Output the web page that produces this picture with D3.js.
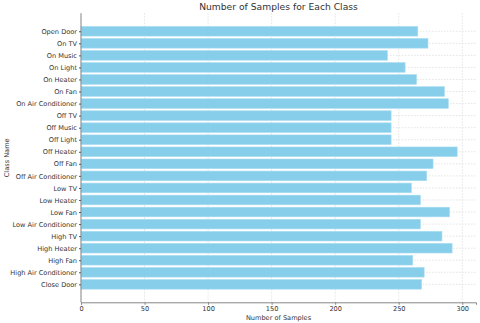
<!DOCTYPE html>
<html>
<head>
<meta charset="utf-8">
<script src="https://cdn.jsdelivr.net/npm/d3@7"></script>
<style>
  body { margin: 0; background: #fff; }
  svg text { font-family: "DejaVu Sans", sans-serif; fill: #333; }
</style>
</head>
<body>
<svg id="chart" width="480" height="323"></svg>
<script>
const classes = ["Open Door", "On TV", "On Music", "On Light", "On Heater", "On Fan", "On Air Conditioner",
  "Off TV", "Off Music", "Off Light", "Off Heater", "Off Fan", "Off Air Conditioner",
  "Low TV", "Low Heater", "Low Fan", "Low Air Conditioner",
  "High TV", "High Heater", "High Fan", "High Air Conditioner", "Close Door"]
const samples = [265, 273, 241, 255, 264, 286, 289,
  244, 244, 244, 296, 277, 272,
  260, 267, 290, 267,
  284, 292, 261, 270, 268]
const xTicks = [0, 50, 100, 150, 200, 250, 300]

const svg = d3.select("#chart")
const mLeft = 81, mRight = 476, mTop = 13.3, mBottom = 302.3

const x = d3.scaleLinear()
  .domain([0, d3.max(samples) * 1.05])
  .range([mLeft, mRight])
// matplotlib style: category centers with 0.05 margin
const n = classes.length
const y = d3.scaleLinear()
  .domain([-0.4 - 0.05 * (n - 0.2), n - 1 + 0.4 + 0.05 * (n - 0.2)])
  .range([mTop, mBottom])
const barH = y(0.4) - y(-0.4)

// grid
svg.append("g").selectAll("line")
  .data(xTicks).join("line")
  .attr("x1", d => x(d)).attr("x2", d => x(d))
  .attr("y1", mTop).attr("y2", mBottom)
  .attr("stroke", "#ddd").attr("stroke-width", 0.8).attr("stroke-dasharray", "1.5,1.5")
svg.append("g").selectAll("line")
  .data(classes).join("line")
  .attr("x1", mLeft).attr("x2", mRight)
  .attr("y1", (d, i) => y(i)).attr("y2", (d, i) => y(i))
  .attr("stroke", "#ddd").attr("stroke-width", 0.8).attr("stroke-dasharray", "1.5,1.5")

// bars
svg.append("g").selectAll("rect")
  .data(samples).join("rect")
  .attr("x", x(0))
  .attr("y", (d, i) => y(i) - barH / 2)
  .attr("width", d => x(d) - x(0))
  .attr("height", barH)
  .attr("fill", "#87ceeb")
  .attr("stroke", "#a8dcf0")
  .attr("stroke-width", 0.6)

// x axis
const xAxis = svg.append("g")
  .attr("transform", `translate(0,${mBottom})`)
  .call(d3.axisBottom(x).tickValues(xTicks).tickSize(2.5).tickPadding(1.5))
xAxis.select(".domain").attr("stroke", "#888")
xAxis.selectAll(".tick line").attr("stroke", "#888")
xAxis.selectAll("text").attr("font-size", 6.6).attr("fill", "#333")

// y axis
const yAxis = svg.append("g")
  .attr("transform", `translate(${mLeft},0)`)
  .call(d3.axisLeft(d3.scalePoint().domain(classes).range([y(0), y(n - 1)]))
    .tickSize(2).tickPadding(2))
yAxis.select(".domain").attr("d", `M0,${mTop}V${mBottom}`).attr("stroke", "#888")
yAxis.selectAll(".tick line").attr("stroke", "#555")
yAxis.selectAll("text").attr("font-size", 6.6).attr("fill", "#333")

// labels
svg.append("text")
  .attr("x", (mLeft + mRight) / 2).attr("y", 10)
  .attr("text-anchor", "middle").attr("font-size", 9.2)
  .text("Number of Samples for Each Class")
svg.append("text")
  .attr("x", (mLeft + mRight) / 2).attr("y", 320)
  .attr("text-anchor", "middle").attr("font-size", 6.6)
  .text("Number of Samples")
svg.append("text")
  .attr("transform", `translate(9,${(mTop + mBottom) / 2}) rotate(-90)`)
  .attr("text-anchor", "middle").attr("font-size", 6.6)
  .text("Class Name")
</script>
</body>
</html>
